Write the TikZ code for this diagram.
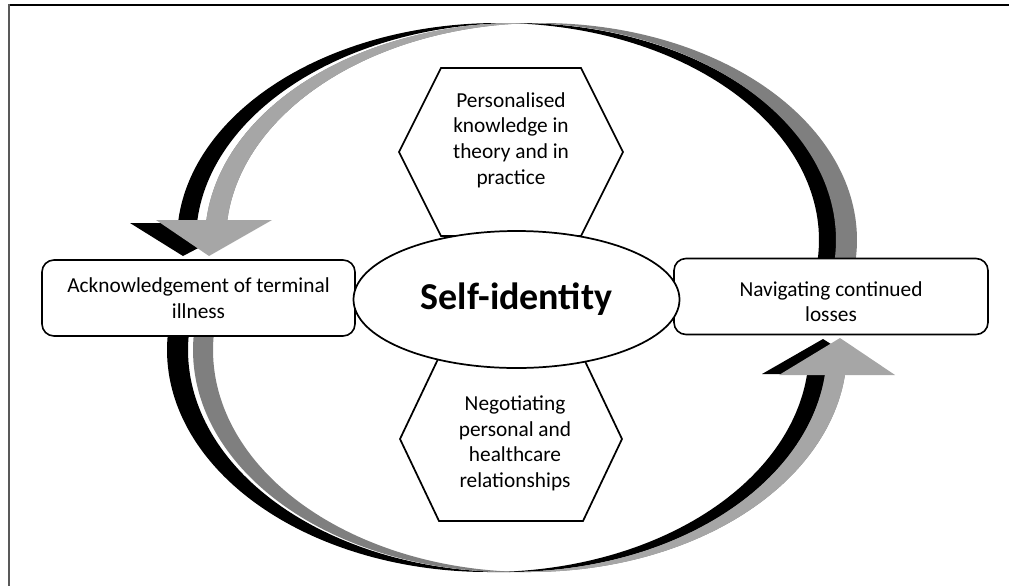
\documentclass[tikz,border=0pt]{standalone}
\usepackage{fontspec}
\setmainfont{Carlito}
\usetikzlibrary{shapes.geometric}
\definecolor{ltgrey}{HTML}{A6A6A6}
\definecolor{dkgrey}{HTML}{7F7F7F}
\definecolor{framegrey}{HTML}{595959}
% ribbon: cx cy rx ry W tL tA tR tM0
\newcommand\ribpath[9]{%
 plot[domain=#6:#7] ({#1+#3*cos(\x)},{#2-#4*sin(\x)})
 -- plot[domain=#7:#8] ({#1+#5+#3*cos(\x)},{#2-#4*sin(\x)})
 -- plot[domain=#8:#9] ({#1+#3*cos(\x)},{#2-#4*sin(\x)})
 -- plot[domain=2*#7-#9:#6] ({#1+#5+#3*cos(\x)},{#2-#4*sin(\x)})
 -- cycle}
\begin{document}
\begin{tikzpicture}[x=0.75pt,y=-0.75pt,samples=70,
  txt/.style={font=\fontsize{16}{19.2}\selectfont, align=center},
  boxnode/.style={txt, draw, line width=1.2pt, fill=white, rounded corners=9pt,
     minimum height=57pt, inner sep=0pt},
  hexline/.style={draw, line width=1.3pt, line join=miter},
]
\useasboundingbox (0,0) rectangle (1009,586);
% frame
\draw[line width=1.5pt] (8,5) -- (1009,5);
\draw[framegrey, line width=1.7pt] (9,4.2) -- (9,586);

% black shadow ribbons
\fill[black] \ribpath{498}{240}{321}{217}{19}{175.5}{90}{-6.6}{88.30};
\fill[black] (130,223) -- (246,223) -- (183,256) -- cycle;
\fill[black] \ribpath{488}{350}{321}{222}{21}{174.83}{270}{353.8}{271.87};
\fill[black] (762,374) -- (878,374) -- (823,339) -- cycle;

% grey ribbon top (head at left)
\fill[dkgrey] \ribpath{520.5}{240}{315.5}{217}{21}{174.7}{90}{-6.6}{88.09};
\begin{scope}
 \clip (0,0) rectangle (531,586);
 \fill[ltgrey] \ribpath{520.5}{240}{315.5}{217}{21}{174.7}{90}{-6.6}{88.09};
\end{scope}
\fill[ltgrey] (156,220) -- (272,220) -- (209,256) -- cycle;

% grey ribbon bottom (head at right)
\fill[dkgrey] \ribpath{510}{350}{317}{222}{20}{174.83}{270}{353.53}{271.81};
\begin{scope}
 \clip (520,0) rectangle (1009,586);
 \fill[ltgrey] \ribpath{510}{350}{317}{222}{20}{174.83}{270}{353.53}{271.81};
\end{scope}
\fill[ltgrey] (779,375) -- (895,375) -- (840,338) -- cycle;

% hexagons
\draw[hexline] (441,68) -- (581,68) -- (623,152) -- (581,236) -- (441,236) -- (399,152) -- cycle;
\draw[hexline] (439,357) -- (583,357) -- (622,439) -- (583,521) -- (439,521) -- (400,439) -- cycle;
\node[txt] (know) at (511,140) {Personalised\\knowledge in\\theory and in\\practice};
\node[txt] (nego) at (515,443.5) {Negotiating\\personal and\\healthcare\\relationships};

% boxes
\node[boxnode, minimum width=234.75pt] (ack) at (198.5,298) {Acknowledgement of terminal\\illness};
\node[boxnode, minimum width=235.5pt] (nav) at (831,296.5) {\raisebox{-4pt}[\height][\depth]{\parbox{200pt}{\centering Navigating continued\\losses}}};

% centre ellipse
\node[ellipse, draw, fill=white, line width=1.3pt, minimum width=244.5pt,
      minimum height=102.75pt, inner sep=0pt] (self) at (516.5,299.5)
      {\fontsize{28.5}{34}\selectfont\bfseries Self-identity};
\end{tikzpicture}
\end{document}
